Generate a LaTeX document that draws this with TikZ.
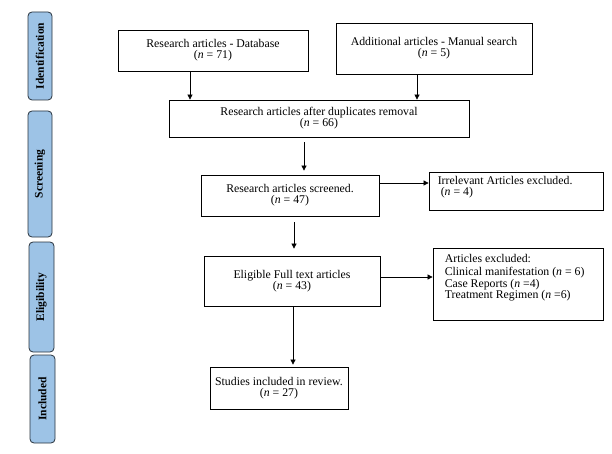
\documentclass[tikz,border=0pt]{standalone}
\usepackage{fontspec}
\setmainfont{Liberation Serif}
\usetikzlibrary{arrows.meta}
\definecolor{sideblue}{RGB}{157,195,230}
\definecolor{sideline}{RGB}{40,50,60}
\tikzset{
  box/.style={draw=black, line width=0.8pt, inner sep=0pt, align=center, font=\fontsize{11.8pt}{11pt}\selectfont},
  txt/.style={inner sep=0pt, align=left, anchor=north west, font=\fontsize{11.8pt}{11.5pt}\selectfont},
  side/.style={draw=sideline, fill=sideblue, line width=0.8pt, rounded corners=4pt, rotate=90, inner sep=0pt, font=\bfseries\fontsize{11.5pt}{12pt}\selectfont},
  arr/.style={-{Triangle[length=5pt,width=5pt]}, line width=0.7pt}
}
\begin{document}
\begin{tikzpicture}[x=1pt,y=-1pt]
\useasboundingbox (0,0) rectangle (612,454);
% side labels
\node[side, minimum width=88, minimum height=24] (sid) at (40,56) {Identification};
\node[side, minimum width=126, minimum height=24] (ssc) at (40,174) {Screening};
\node[side, minimum width=110, minimum height=25] (sel) at (41.5,297) {Eligibility};
\node[side, minimum width=88, minimum height=25] (sin) at (42.5,399) {Included};
% boxes
\node[box, minimum width=190, minimum height=41] (db) at (213,50.5) {Research articles - Database\\(\textit{n} = 71)};
\node[box, minimum width=196, minimum height=51] (man) at (434,48.5) {Additional articles - Manual search\\(\textit{n} = 5)};
\node[box, minimum width=300, minimum height=37] (dup) at (319,118.5) {Research articles after duplicates removal\\(\textit{n} = 66)};
\node[box, minimum width=178, minimum height=41] (scr) at (290,195.5) {Research articles screened.\\(\textit{n} = 47)};
\node[box, minimum width=174, minimum height=38] (irr) at (516,191) {};
\node[txt] (irrt) at ([shift={(9pt,-4.5pt)}]irr.north west) {Irrelevant Articles excluded.\\\hspace{3pt}(\textit{n} = 4)};
\node[box, minimum width=176, minimum height=50] (eli) at (292,281) {Eligible Full text articles\\(\textit{n} = 43)};
\node[box, minimum width=170, minimum height=72] (exc) at (518,284) {};
\node[txt] (exct) at ([shift={(12pt,-6.5pt)}]exc.north west) {Articles excluded:\\[2pt]Clinical manifestation (\textit{n} = 6)\\Case Reports (\textit{n} =4)\\Treatment Regimen (\textit{n} =6)};
\node[box, minimum width=138, minimum height=42] (stu) at (279,388) {Studies included in review.\\(\textit{n} = 27)};
% connectors
\draw[arr] (db.south -| 190,0) -- (dup.north -| 190,0);
\draw[arr] (man.south -| 417,0) -- (dup.north -| 417,0);
\draw[arr] ([yshift=-5pt]dup.south -| 304,0) -- ([yshift=4pt]scr.north -| 304,0);
\draw[arr] (scr.east |- 0,183) -- (irr.west |- 0,183);
\draw[arr] ([yshift=-6pt]scr.south -| 294,0) -- ([yshift=7pt]eli.north -| 294,0);
\draw[arr] (eli.east |- 0,277) -- (exc.west |- 0,277);
\draw[arr] (eli.south -| 293,0) -- ([yshift=2pt]stu.north -| 293,0);
\end{tikzpicture}
\end{document}
